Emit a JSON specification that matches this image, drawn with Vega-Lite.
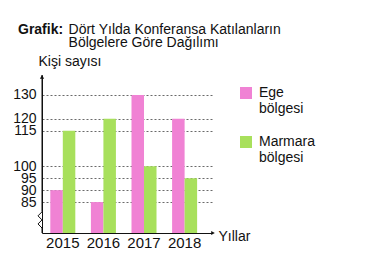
{
  "$schema": "https://vega.github.io/schema/vega-lite/v6.json",
  "width": 170,
  "height": 158,
  "autosize": "none",
  "padding": {"left": 42, "top": 75, "right": 167, "bottom": 34},
  "background": "white",
  "config": {"font": "Liberation Sans", "view": {"stroke": null}},
  "datasets": {
    "bars": [
      {"year": "2015", "region": "Ege bölgesi", "value": 90},
      {"year": "2015", "region": "Marmara bölgesi", "value": 115},
      {"year": "2016", "region": "Ege bölgesi", "value": 85},
      {"year": "2016", "region": "Marmara bölgesi", "value": 120},
      {"year": "2017", "region": "Ege bölgesi", "value": 130},
      {"year": "2017", "region": "Marmara bölgesi", "value": 100},
      {"year": "2018", "region": "Ege bölgesi", "value": 120},
      {"year": "2018", "region": "Marmara bölgesi", "value": 95}
    ],
    "axisline": [
      {"o": 1, "ax": 0, "ay": 72},
      {"o": 2, "ax": 0, "ay": 74.1},
      {"o": 3, "ax": -4, "ay": 75.8},
      {"o": 4, "ax": 0, "ay": 77.5},
      {"o": 5, "ax": -4, "ay": 79.2},
      {"o": 6, "ax": 0, "ay": 80.9},
      {"o": 7, "ax": 0, "ay": 138.4}
    ],
    "toparrow": [{"ax": 0, "ay": 137.6}],
    "rightarrow": [{"ax": 171, "ay": 72}]
  },
  "title": {
    "text": "Grafik:",
    "subtitle": [
      "\u200b\u00a0\u00a0\u00a0\u00a0\u00a0\u00a0\u00a0\u00a0\u00a0\u00a0\u00a0\u00a0\u00a0Dört Yılda Konferansa Katılanların",
      "\u200b\u00a0\u00a0\u00a0\u00a0\u00a0\u00a0\u00a0\u00a0\u00a0\u00a0\u00a0\u00a0\u00a0Bölgelere Göre Dağılımı"
    ],
    "anchor": "start",
    "frame": "group",
    "fontSize": 14,
    "fontWeight": "bold",
    "color": "#111111",
    "subtitleFontSize": 14,
    "subtitleFontWeight": "normal",
    "subtitleColor": "#111111",
    "subtitleLineHeight": 13,
    "subtitlePadding": -14,
    "dx": -24,
    "offset": 4
  },
  "layer": [
    {
      "data": {"name": "bars"},
      "mark": {"type": "bar"},
      "encoding": {
        "x": {
          "field": "year",
          "type": "nominal",
          "scale": {"paddingInner": 0.384, "paddingOuter": 0.2855, "align": 0.358},
          "axis": {
            "title": "Yıllar",
            "titleFontSize": 14,
            "titleFontWeight": "normal",
            "titleColor": "#111111",
            "titleX": 176,
            "titleY": 3,
            "titleAlign": "left",
            "titleBaseline": "middle",
            "labelAngle": 0,
            "labelFontSize": 15,
            "labelColor": "#111111",
            "labelPadding": 2,
            "ticks": false,
            "tickSize": 0,
            "domainColor": "#111111",
            "domainWidth": 1
          }
        },
        "xOffset": {"field": "region", "type": "nominal", "scale": {"paddingInner": 0, "paddingOuter": 0}},
        "y": {
          "field": "value",
          "type": "quantitative",
          "scale": {"domain": [72, 138.4], "nice": false, "zero": false, "clamp": true},
          "axis": {
            "title": "Kişi sayısı",
            "titleFontSize": 14,
            "titleFontWeight": "normal",
            "titleColor": "#111111",
            "titleAngle": 0,
            "titleAlign": "left",
            "titleBaseline": "alphabetic",
            "titleX": -4,
            "titleY": -10,
            "values": [85, 90, 95, 100, 115, 120, 130],
            "tickCount": 30,
            "labelOverlap": false,
            "grid": true,
            "gridDash": [2, 2],
            "gridColor": "#444444",
            "gridWidth": 0.8,
            "domain": true,
            "domainColor": "#111111",
            "domainWidth": 1,
            "ticks": false,
            "tickSize": 0,
            "labelPadding": 6,
            "labelFontSize": 14,
            "labelColor": "#111111"
          }
        },
        "color": {
          "field": "region",
          "type": "nominal",
          "scale": {"domain": ["Ege bölgesi", "Marmara bölgesi"], "range": ["#f082d4", "#a8e05c"]},
          "legend": {
            "title": null,
            "orient": "none",
            "legendX": 197,
            "legendY": 11,
            "symbolType": "square",
            "symbolSize": 144,
            "symbolStrokeWidth": 0,
            "labelFontSize": 14,
            "labelColor": "#111111",
            "labelExpr": "split(datum.label, ' ')",
            "labelLineHeight": 16,
            "labelOffset": 6,
            "labelLimit": 0,
            "rowPadding": 19
          }
        }
      }
    },
    {
      "data": {"name": "axisline"},
      "mark": {"type": "line", "color": "#111111", "strokeWidth": 1},
      "encoding": {
        "x": {"field": "ax", "type": "quantitative", "scale": {"domain": [0, 170], "nice": false, "zero": false}, "axis": null},
        "y": {"field": "ay", "type": "quantitative", "scale": {"domain": [72, 138.4], "nice": false, "zero": false, "clamp": true}, "axis": null},
        "order": {"field": "o"}
      }
    },
    {
      "data": {"name": "toparrow"},
      "mark": {"type": "point", "shape": "triangle-up", "filled": true, "color": "#111111", "size": 18, "opacity": 1},
      "encoding": {
        "x": {"field": "ax", "type": "quantitative", "scale": {"domain": [0, 170], "nice": false, "zero": false}, "axis": null},
        "y": {"field": "ay", "type": "quantitative", "scale": {"domain": [72, 138.4], "nice": false, "zero": false, "clamp": true}, "axis": null}
      }
    },
    {
      "data": {"name": "rightarrow"},
      "mark": {"type": "point", "shape": "triangle-right", "filled": true, "color": "#111111", "size": 18, "opacity": 1},
      "encoding": {
        "x": {"field": "ax", "type": "quantitative", "scale": {"domain": [0, 170], "nice": false, "zero": false}, "axis": null},
        "y": {"field": "ay", "type": "quantitative", "scale": {"domain": [72, 138.4], "nice": false, "zero": false, "clamp": true}, "axis": null}
      }
    }
  ],
  "resolve": {"scale": {"x": "independent"}, "axis": {"y": "independent"}}
}
